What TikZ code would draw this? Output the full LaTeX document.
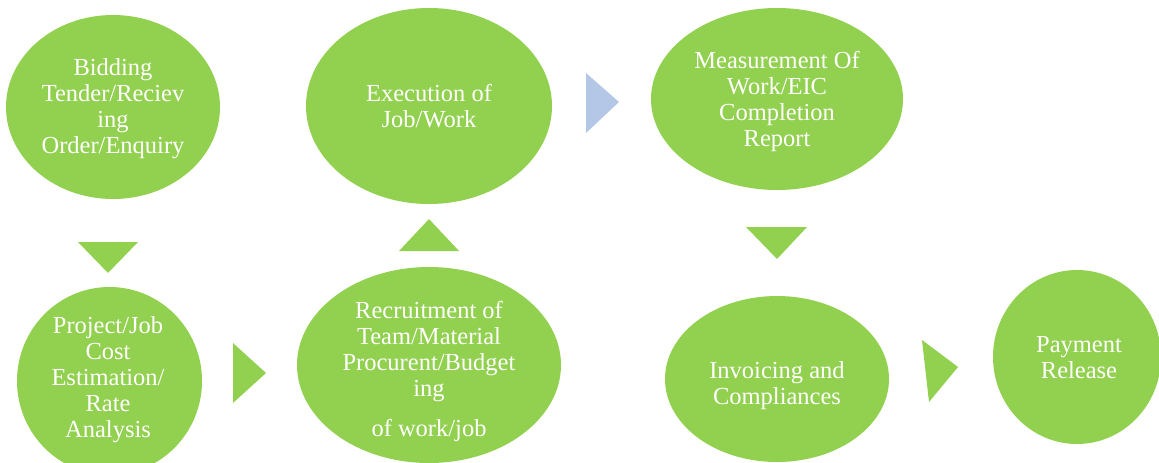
\documentclass[tikz,border=0pt]{standalone}
\usepackage{fontspec}
\setmainfont{Liberation Serif}
\usetikzlibrary{shapes.geometric}
\definecolor{lgreen}{HTML}{92D050}
\definecolor{lblue}{HTML}{B4C7E7}
\tikzset{
  bubble/.style={ellipse, fill=lgreen, draw=none, inner sep=0pt},
  btext/.style={text=white, align=center, inner sep=0pt, font=\fontsize{24.5}{26}\selectfont},
  garrow/.style={fill=lgreen, draw=none},
  barrow/.style={fill=lblue, draw=none}
}
\begin{document}
\begin{tikzpicture}[x=1pt,y=-1pt]
\useasboundingbox (0,0) rectangle (1159,463);
\clip (0,0) rectangle (1159,463);
% ellipses
\node[bubble, minimum width=214pt, minimum height=184pt] (e1) at (113,107) {};
\node[bubble, minimum width=185pt, minimum height=188pt] (e2) at (109.5,381) {};
\node[bubble, minimum width=264pt, minimum height=196pt] (e3) at (429,365) {};
\node[bubble, minimum width=246pt, minimum height=196pt] (e4) at (429,106) {};
\node[bubble, minimum width=252pt, minimum height=182pt] (e5) at (777,99) {};
\node[bubble, minimum width=224pt, minimum height=166pt] (e6) at (777,379) {};
\node[bubble, minimum width=168pt, minimum height=174pt] (e7) at (1077,357) {};
% texts
\node[btext] (t1) at (113,109) {Bidding\\Tender/Reciev\\ing\\Order/Enquiry};
\node[btext] (t2) at (108,380) {Project/Job\\Cost\\Estimation/\\Rate\\Analysis};
\node[btext] (t3) at (429,371.5) {Recruitment of\\Team/Material\\Procurent/Budget\\ing\\[14pt]of work/job};
\node[btext] (t4) at (429,106) {Execution of\\Job/Work};
\node[btext] (t5) at (777,101) {Measurement Of\\Work/EIC\\Completion\\Report};
\node[btext] (t6) at (777,386) {Invoicing and\\Compliances};
\node[btext] (t7) at (1079,358) {Payment\\Release};
% arrows
\fill[garrow] (78,242) -- (138,242) -- (108,273) -- cycle;
\fill[garrow] (233,343) -- (266,373) -- (233,403) -- cycle;
\fill[garrow] (399,251) -- (459,251) -- (429,219) -- cycle;
\fill[barrow] (586,73) -- (619,102) -- (586,133) -- cycle;
\fill[garrow] (746,227) -- (807,227) -- (777,259) -- cycle;
\fill[garrow] (922,340) -- (958,367) -- (929,402) -- cycle;
\end{tikzpicture}
\end{document}
